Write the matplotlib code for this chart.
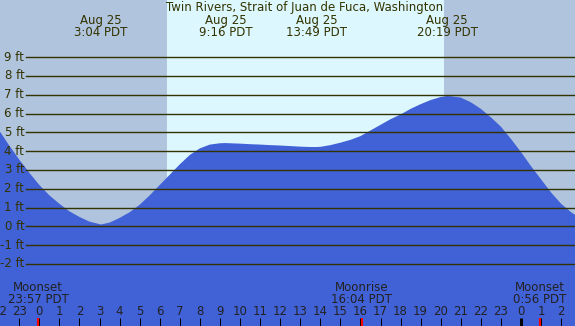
import matplotlib
matplotlib.use("Agg")
import matplotlib.pyplot as plt

# tide height (ft) every half hour, hours relative to midnight Aug 25
hours = [-2, -1.5, -1, -0.5, 0, 0.5, 1, 1.5, 2, 2.5, 3, 3.07, 3.5, 4, 4.5, 5, 5.5, 6, 6.5,
         7, 7.5, 8, 8.5, 9, 9.27, 9.5, 10, 10.5, 11, 11.5, 12, 12.5, 13, 13.5, 13.82,
         14, 14.5, 15, 15.5, 16, 16.5, 17, 17.5, 18, 18.5, 19, 19.5, 20, 20.32, 20.5,
         21, 21.5, 22, 22.5, 23, 23.5, 24, 24.5, 25, 25.5, 26, 26.5, 27]
height = [5.1, 4.3, 3.55, 2.85, 2.2, 1.65, 1.2, 0.8, 0.5, 0.25, 0.12, 0.1, 0.2, 0.45, 0.75, 1.15, 1.65, 2.2, 2.75,
          3.3, 3.8, 4.15, 4.35, 4.42, 4.43, 4.42, 4.4, 4.37, 4.35, 4.32, 4.3, 4.27, 4.24, 4.22, 4.22,
          4.23, 4.32, 4.45, 4.6, 4.8, 5.1, 5.4, 5.7, 5.95, 6.25, 6.5, 6.72, 6.88, 6.93, 6.92,
          6.85, 6.6, 6.25, 5.8, 5.3, 4.65, 3.95, 3.2, 2.5, 1.8, 1.2, 0.75, 0.4]

# high / low tide annotations
tide_times = [3 + 4/60, 9 + 16/60, 13 + 49/60, 20 + 19/60]
tide_labels = ["3:04 PDT", "9:16 PDT", "13:49 PDT", "20:19 PDT"]

# moon events
moon_times = [-3/60, 16 + 4/60, 24 + 56/60]
moon_names = ["Moonset", "Moonrise", "Moonset"]
moon_labels = ["23:57 PDT", "16:04 PDT", "0:56 PDT"]

sunrise = 6.35
sunset = 20.16
ft_levels = list(range(-2, 10))

night_c = "#b0c4de"
day_c = "#ddf7fe"
water_c = "#4161d6"
ink = "#333300"

fig = plt.figure(figsize=(5.75, 3.26), dpi=100)
ax = fig.add_axes([0, 0, 1, 1])
x0, x1 = -1.96, 26.69
ax.set_xlim(x0, x1)
ax.set_ylim(-5.3, 12.04)
ax.axis("off")

ax.axvspan(x0, sunrise, color=night_c, lw=0, zorder=0)
ax.axvspan(sunrise, sunset, color=day_c, lw=0, zorder=0)
ax.axvspan(sunset, x1, color=night_c, lw=0, zorder=0)

ax.fill_between(hours, height, -10, color=water_c, lw=0, zorder=1)

# foot lines and labels
for f in ft_levels:
    ax.axhline(f, xmin=26/575, xmax=1, color=ink, lw=1.0, zorder=2)
    ax.text(-0.75, f, "%d ft" % f, ha="right", va="center", fontsize=8.5, color=ink, zorder=3)

ax.text(13.2, 11.65, "Twin Rivers, Strait of Juan de Fuca, Washington", ha="center", va="center",
        fontsize=8.5, color=ink)
for t, lab in zip(tide_times, tide_labels):
    ax.text(t, 10.95, "Aug 25", ha="center", va="center", fontsize=8.5, color=ink)
    ax.text(t, 10.3, lab, ha="center", va="center", fontsize=8.5, color=ink)

for t, nm, lab in zip(moon_times, moon_names, moon_labels):
    ax.text(t, -3.25, nm, ha="center", va="center", fontsize=8.5, color="#222222")
    ax.text(t, -3.9, lab, ha="center", va="center", fontsize=8.5, color="#222222")

# hour ticks along the bottom
ytick_top = -5.3 + 8 / 18.8
for h in range(-2, 27):
    ax.text(h, -4.55, str(h % 24), ha="center", va="center", fontsize=8.5, color="#222222")
    w = 3.0 if h == 24 else 1.0
    ax.plot([h, h], [-5.3, ytick_top], color="black", lw=w * 0.72, solid_capstyle="butt", zorder=3)
for t in moon_times:
    ax.plot([t, t], [-5.3, ytick_top], color="red", lw=1.5, solid_capstyle="butt", zorder=4)

fig.savefig("out.png", dpi=100)
